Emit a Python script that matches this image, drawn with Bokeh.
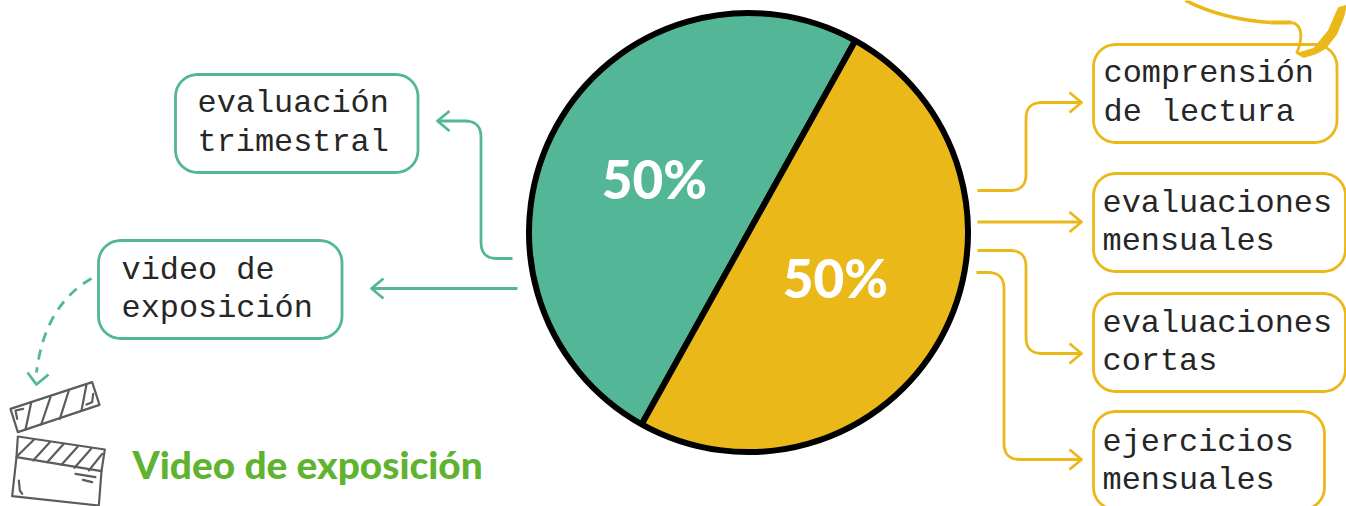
import math
from bokeh.plotting import figure
from bokeh.models import Range1d
from bokeh.core.properties import value
from bokeh.embed import file_html
from bokeh.resources import INLINE

# ---- data ----
pie_labels = ["50%", "50%"]
pie_values = [50, 50]
pie_colors = ["#53B797", "#EAB818"]
green_items = ["evaluación\ntrimestral", "video de\nexposición"]
yellow_items = ["comprensión\nde lectura", "evaluaciones\nmensuales",
                "evaluaciones\ncortas", "ejercicios\nmensuales"]
video_title = "Video de exposición"

GREEN = "#53B797"
YELLOW = "#EAB818"
TITLE_GREEN = "#5FB330"
GREY = "#5C5C5C"
INK = "#262626"
MONO = "Liberation Mono"
ROUND = "Lato Black"

p = figure(width=1346, height=506, output_backend="svg", toolbar_location=None,
           x_range=Range1d(0, 1346), y_range=Range1d(506, 0),
           min_border=0, outline_line_color=None, background_fill_color="white",
           border_fill_color="white")
p.axis.visible = False
p.grid.visible = False
p.styles = {"position": "absolute", "left": "0px", "top": "0px"}


def arc_pts(cx, cy, r, a0, a1, n=10):
    return [(cx + r * math.cos(math.radians(a0 + (a1 - a0) * i / n)),
             cy + r * math.sin(math.radians(a0 + (a1 - a0) * i / n))) for i in range(n + 1)]


def rounded_box(l, t, r, b, rad, color, width=2.8):
    pts = (arc_pts(l + rad, t + rad, rad, 180, 270) + arc_pts(r - rad, t + rad, rad, 270, 360)
           + arc_pts(r - rad, b - rad, rad, 0, 90) + arc_pts(l + rad, b - rad, rad, 90, 180))
    xs = [q[0] for q in pts]
    ys = [q[1] for q in pts]
    p.patch(xs, ys, fill_color="white", line_color=color, line_width=width)


def rounded_path(points, rad=16, n=8):
    out = [points[0]]
    for a, b, c in zip(points, points[1:], points[2:]):
        d1 = math.hypot(b[0] - a[0], b[1] - a[1])
        d2 = math.hypot(c[0] - b[0], c[1] - b[1])
        r = min(rad, d1 / 2 if a != points[0] else d1, d2 / 2)
        p0 = (b[0] - (b[0] - a[0]) / d1 * r, b[1] - (b[1] - a[1]) / d1 * r)
        p1 = (b[0] + (c[0] - b[0]) / d2 * r, b[1] + (c[1] - b[1]) / d2 * r)
        for i in range(n + 1):
            s = i / n
            out.append(((1 - s) ** 2 * p0[0] + 2 * s * (1 - s) * b[0] + s * s * p1[0],
                        (1 - s) ** 2 * p0[1] + 2 * s * (1 - s) * b[1] + s * s * p1[1]))
    out.append(points[-1])
    return [q[0] for q in out], [q[1] for q in out]


def arrow(points, color, head=12, spread=10):
    xs, ys = rounded_path(points) if len(points) > 2 else ([q[0] for q in points], [q[1] for q in points])
    p.line(xs, ys, line_color=color, line_width=2.8)
    tx, ty = points[-1]
    d = 1 if tx > points[-2][0] else -1
    p.line([tx - d * head, tx, tx - d * head], [ty - spread, ty, ty + spread],
           line_color=color, line_width=2.8, line_join="round")


def two_lines(txt, x, y1, y2, size=31.9):
    a, b = txt.split("\n")
    p.text([x, x], [y1, y2], text=[a, b], text_font=value(MONO), text_font_size=f"{size}px",
           text_color=INK, text_baseline="alphabetic", text_align="left")


# ---- pie ----
total = sum(pie_values)
start = math.radians(60.9)
cx, cy, rad = 748, 232, 219.5
angle = start
for v, col in zip(pie_values, pie_colors):
    end = angle + 2 * math.pi * v / total
    p.wedge([cx], [cy], radius=rad, start_angle=angle, end_angle=end, direction="anticlock",
            fill_color=col, line_color="black", line_width=6)
    angle = end
p.text([654, 835], [178, 277], text=pie_labels, text_font=value(ROUND), text_font_size="53px",
       text_font_style="bold", text_color="white", text_align="center", text_baseline="alphabetic")

# ---- boxes ----
rounded_box(175, 74, 417.5, 172, 22, GREEN)
rounded_box(98, 240, 341.5, 338, 22, GREEN)
rounded_box(1093, 44, 1336.5, 142, 22, YELLOW)
rounded_box(1093, 173, 1345, 271, 22, YELLOW)
rounded_box(1093, 293, 1345, 391, 22, YELLOW)
rounded_box(1093, 411, 1324, 509, 22, YELLOW)

two_lines(green_items[0], 197, 103, 142)
two_lines(green_items[1], 121, 270, 308)
two_lines(yellow_items[0], 1103, 73, 112)
two_lines(yellow_items[1], 1102, 203, 241)
two_lines(yellow_items[2], 1102, 323, 361)
two_lines(yellow_items[3], 1102, 442, 480)

# ---- arrows ----
arrow([(512, 258), (480.5, 258), (480.5, 120.5), (437, 120.5)], GREEN)
arrow([(517, 288), (371, 288)], GREEN)
arrow([(977, 190), (1025.5, 190), (1025.5, 102), (1081, 102)], YELLOW)
arrow([(977, 221.5), (1081, 221.5)], YELLOW)
arrow([(977, 250), (1025.5, 250), (1025.5, 353), (1081, 353)], YELLOW)
arrow([(976, 272), (1003.5, 272), (1003.5, 459), (1081, 459)], YELLOW)

# dashed curve to the clapperboard
p.quadratic(x0=[91], y0=[278], x1=[36], y1=[372], cx=[44], cy=[305], line_color=GREEN,
            line_width=2.8, line_dash="10 8")
p.line([27, 36, 48], [372, 384, 374], line_color=GREEN, line_width=2.8, line_join="round")

# ---- callout fragment, top right ----
p.quadratic(x0=[1185], y0=[0], x1=[1270], y1=[22], cx=[1222], cy=[19], line_color=YELLOW, line_width=3.6)
p.line([1270, 1291], [22, 22], line_color=YELLOW, line_width=4)
p.bezier(x0=[1291], y0=[22], x1=[1296], y1=[53], cx0=[1303], cy0=[24], cx1=[1302], cy1=[40],
         line_color=YELLOW, line_width=2.8)
p.patch([1296, 1303, 1316, 1325, 1336, 1343, 1346, 1338, 1328, 1313],
        [53, 57, 53, 48, 34, 17, 5, 7, 30, 48], fill_color=YELLOW, line_color=YELLOW, line_width=1)

# ---- clapperboard ----
z = lambda pts: ([q[0] / 3 for q in pts], [q[1] / 3 + 230 for q in pts])
strokes = [
    [(30, 535), (275, 455), (297, 523), (52, 605), (30, 535)],
    [(92, 517), (75, 597)], [(150, 500), (122, 582)], [(205, 480), (178, 565)], [(258, 462), (243, 540)],
    [(50, 565), (45, 540), (68, 535)], [(258, 522), (275, 515), (278, 490)],
    [(52, 618), (313, 657), (303, 722), (48, 680), (52, 618)],
    [(48, 680), (35, 797), (295, 825), (303, 722)],
    [(52, 675), (100, 628)], [(98, 690), (148, 635)], [(140, 695), (190, 640)],
    [(183, 703), (232, 648)], [(222, 712), (272, 655)], [(265, 720), (305, 670)],
    [(225, 730), (285, 740)], [(247, 748), (275, 755)], [(55, 750), (58, 780), (65, 790)],
]
for s in strokes:
    xs, ys = z(s)
    p.line(xs, ys, line_color=GREY, line_width=2.2, line_join="round", line_cap="round")

p.text([132], [463], text=[video_title], text_font=value(ROUND), text_font_size="38.8px",
       text_font_style="bold", text_color=TITLE_GREEN, text_baseline="alphabetic", text_align="left")

open("out.html", "w").write(file_html(p, INLINE))
